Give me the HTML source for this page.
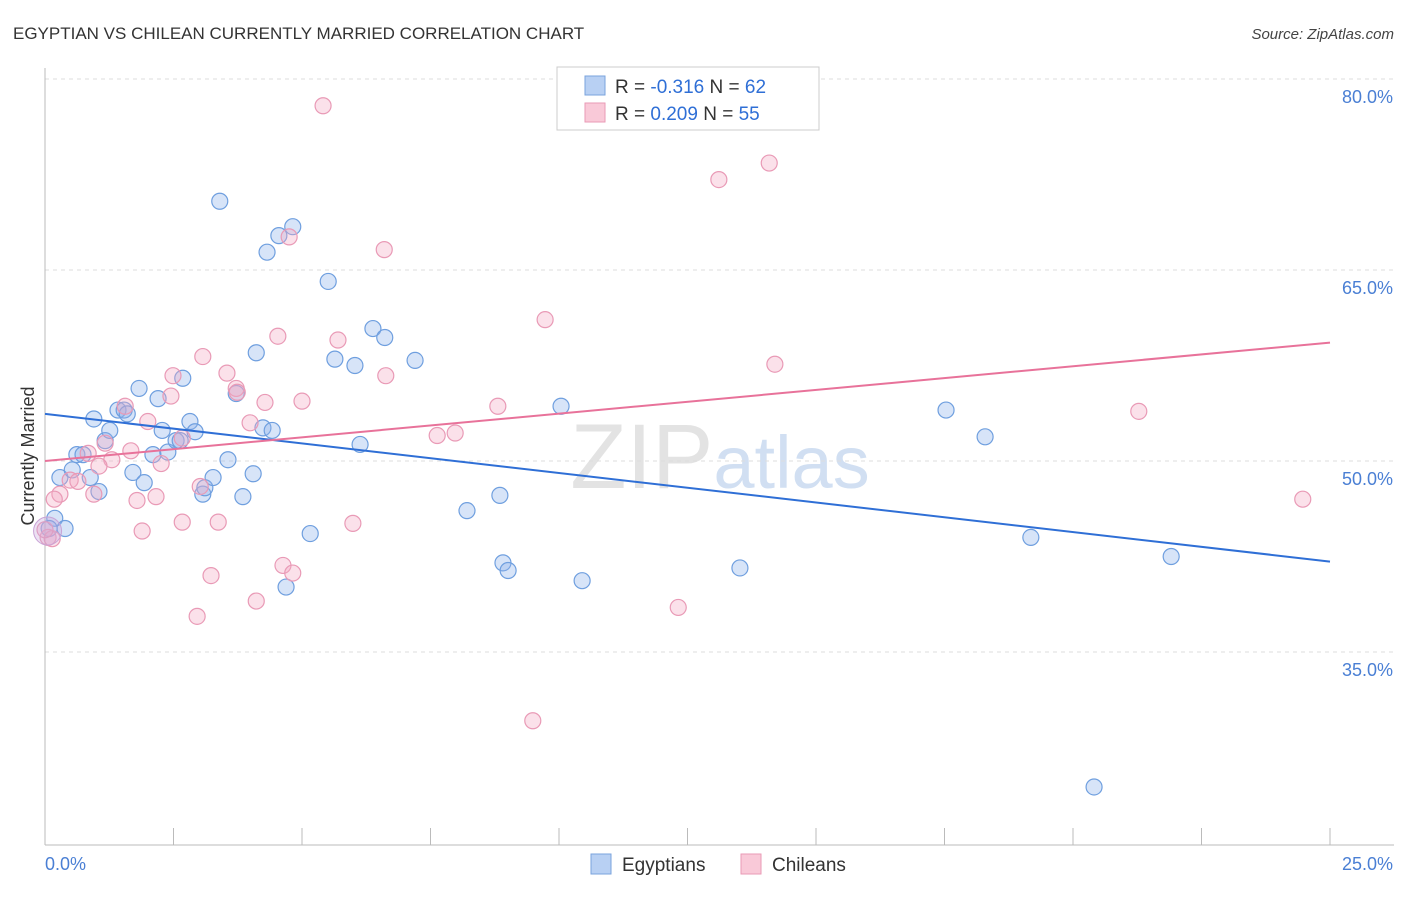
<!DOCTYPE html>
<html><head><meta charset="utf-8"><style>
body{margin:0;background:#fff;font-family:"Liberation Sans",sans-serif;}
svg text{font-family:"Liberation Sans",sans-serif;}
</style></head><body>
<svg id="chart" width="1406" height="892" xmlns="http://www.w3.org/2000/svg">
<text x="13" y="39" font-size="17" fill="#333">EGYPTIAN VS CHILEAN CURRENTLY MARRIED CORRELATION CHART</text>
<text x="1394" y="39" font-size="15" fill="#444" font-style="italic" text-anchor="end">Source: ZipAtlas.com</text>
<text x="720" y="488" font-size="92" text-anchor="middle" fill="#ddd" font-family="Liberation Serif" opacity="0.8">ZIP<tspan fill="#c6d8ef" font-family="Liberation Sans" font-size="74">atlas</tspan></text>
<g id="grid"></g>
<g id="axes"></g>
<text transform="translate(34,456) rotate(-90)" font-size="18" fill="#333" text-anchor="middle">Currently Married</text>
<g id="marks"></g>
<g>
<rect x="557" y="67" width="262" height="63" fill="#fff" stroke="#ccc"/>
<rect x="585" y="76" width="20" height="19" fill="#b8d0f3" stroke="#7aa3dd"/>
<text x="615" y="93" font-size="19" fill="#333">R = <tspan fill="#2f6fd6">-0.316</tspan>   N = <tspan fill="#2f6fd6">62</tspan></text>
<rect x="585" y="103" width="20" height="19" fill="#f9c9d8" stroke="#e99ab6"/>
<text x="615" y="120" font-size="19" fill="#333">R =  <tspan fill="#2f6fd6">0.209</tspan>   N = <tspan fill="#2f6fd6">55</tspan></text>
</g>
<g>
<rect x="591" y="854" width="20" height="20" fill="#b8d0f3" stroke="#7aa3dd"/>
<text x="622" y="871" font-size="19" fill="#333">Egyptians</text>
<rect x="741" y="854" width="20" height="20" fill="#f9c9d8" stroke="#e99ab6"/>
<text x="772" y="871" font-size="19" fill="#333">Chileans</text>
</g>
</svg>
<script>
const yTicks=[80,65,50,35];
const yTickLabels=["80.0%","65.0%","50.0%","35.0%"];
const xTickLabels=["0.0%","25.0%"];
const egyX=[0.19,0.39,0.29,0.53,0.62,0.74,0.88,1.05,0.95,1.17,1.26,1.42,1.54,1.60,1.71,1.83,1.93,2.10,2.20,2.28,2.39,2.55,2.63,2.68,2.82,2.92,3.07,3.11,3.27,3.40,3.56,3.72,3.85,4.05,4.11,4.32,4.24,4.42,4.55,4.69,4.82,5.16,5.51,5.64,6.03,6.13,6.38,6.61,7.20,8.21,8.85,8.91,9.01,10.04,10.45,13.52,17.53,18.29,19.18,21.91,20.41,0.08];
const egyY=[45.5,44.7,48.7,49.3,50.5,50.5,48.7,47.6,53.3,51.6,52.4,54.0,54.0,53.7,49.1,55.7,48.3,50.5,54.9,52.4,50.7,51.6,51.6,56.5,53.1,52.3,47.4,47.9,48.7,70.4,50.1,55.3,47.2,49.0,58.5,66.4,52.6,52.4,67.7,40.1,68.4,44.3,64.1,58.0,57.5,51.3,60.4,59.7,57.9,46.1,47.3,42.0,41.4,54.3,40.6,41.6,54.0,51.9,44.0,42.5,24.4,44.7];
const chiX=[5.41,14.09,13.11,4.75,6.60,9.73,4.53,5.70,3.07,3.54,14.20,6.63,2.49,2.45,3.72,3.74,5.00,1.56,2.00,3.99,4.28,8.81,21.28,7.63,7.98,2.67,1.17,1.67,0.84,1.30,2.26,1.05,0.49,0.64,0.29,0.95,2.16,3.02,1.79,0.18,24.47,2.67,3.37,5.99,1.89,4.63,4.82,3.23,4.11,2.96,12.32,9.49,0.06,0.14,0.0];
const chiY=[77.9,73.4,72.1,67.6,66.6,61.1,59.8,59.5,58.2,56.9,57.6,56.7,56.7,55.1,55.7,55.4,54.7,54.3,53.1,53.0,54.6,54.3,53.9,52.0,52.2,51.8,51.4,50.8,50.6,50.1,49.8,49.6,48.5,48.4,47.4,47.4,47.2,48.0,46.9,47.0,47.0,45.2,45.2,45.1,44.5,41.8,41.2,41.0,39.0,37.8,38.5,29.6,44.0,43.9,44.6];
const egyTrend=[53.7,42.1];
const chiTrend=[50.0,59.3];
const NS="http://www.w3.org/2000/svg";
const sx=v=>45+v*(1285/25);
const sy=v=>79+(80-v)*(191/15);
function mk(tag,attrs,parent){const e=document.createElementNS(NS,tag);for(const k in attrs)e.setAttribute(k,attrs[k]);parent.appendChild(e);return e;}
const grid=document.getElementById('grid'),axes=document.getElementById('axes'),marks=document.getElementById('marks');
yTicks.forEach((t,i)=>{
 const l=mk('line',{x1:45,x2:1394,y1:sy(t),y2:sy(t),stroke:'#ddd','stroke-dasharray':'4,4'},grid);
 
 
 const tx=mk('text',{x:1393,y:sy(t)+24,'font-size':18,fill:'#4a7fd4','text-anchor':'end'},axes);
 tx.textContent=yTickLabels[i];
 
 
});
mk('line',{x1:45,x2:45,y1:68,y2:845,stroke:'#bbb'},axes);
mk('line',{x1:45,x2:1394,y1:845,y2:845,stroke:'#bbb'},axes);
for(let i=0;i<=10;i++){const x=sx(i*2.5);mk('line',{x1:x,x2:x,y1:828,y2:845,stroke:'#bbb'},axes);}
[0,25].forEach((v,i)=>{
 const tx=mk('text',{x:i?1393:45,y:870,'font-size':18,fill:'#4a7fd4','text-anchor':i?'end':'start'},axes);
 tx.textContent=xTickLabels[i];
 
 
});
function pts(X,Y,fill,stroke,name){
 X.forEach((x,i)=>{
  const c=mk('circle',{cx:sx(x),cy:sy(Y[i]),r:8,fill:fill,stroke:stroke,'stroke-width':1.2},marks);
  
  
 });
}
pts(egyX,egyY,'rgba(140,178,235,0.35)','#6f9fdf','egyptians-point');
pts(chiX,chiY,'rgba(244,170,196,0.35)','#e99ab6','chileans-point');
const big=mk('circle',{cx:sx(0.05),cy:sy(44.5),r:14,fill:'rgba(200,170,220,0.35)',stroke:'#c9a3d6'},marks);


const t1=mk('line',{x1:sx(0),x2:sx(25),y1:sy(egyTrend[0]),y2:sy(egyTrend[1]),stroke:'#2f6fd6','stroke-width':2},marks);


const t2=mk('line',{x1:sx(0),x2:sx(25),y1:sy(chiTrend[0]),y2:sy(chiTrend[1]),stroke:'#e8729a','stroke-width':2},marks);


</script>
</body></html>
